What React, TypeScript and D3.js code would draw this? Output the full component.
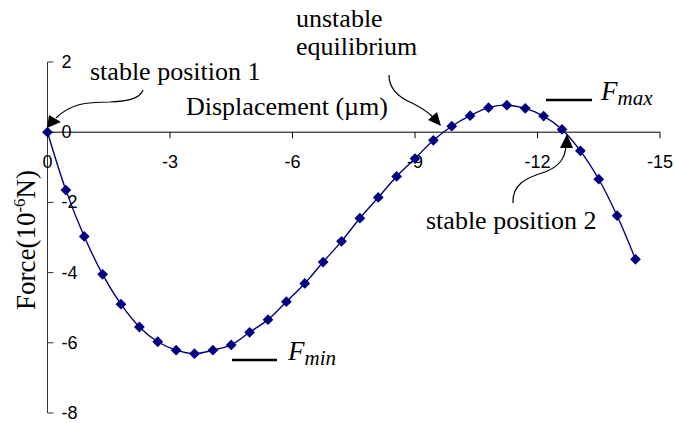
import { useEffect, useRef } from 'react';
import * as d3 from 'd3';

// displacement in um (axis runs 0 -> -15)
const displacement = [
  0, -0.45, -0.9, -1.35, -1.8, -2.25, -2.7, -3.15, -3.6, -4.05, -4.5,
  -4.95, -5.4, -5.85, -6.3, -6.75, -7.2, -7.65, -8.1, -8.55, -9.0,
  -9.45, -9.9, -10.35, -10.8, -11.25, -11.7, -12.15, -12.6, -13.05,
  -13.5, -13.95, -14.4,
];
// force in 1e-6 N
const force = [
  0, -1.65, -2.97, -4.05, -4.9, -5.55, -5.97, -6.21, -6.31, -6.21, -6.06,
  -5.7, -5.34, -4.83, -4.31, -3.7, -3.11, -2.45, -1.86, -1.26, -0.75,
  -0.23, 0.17, 0.47, 0.7, 0.77, 0.68, 0.46, 0.08, -0.53,
  -1.34, -2.38, -3.62,
];
const xTicks = [0, -3, -6, -9, -12, -15];
const yTicks = [2, 0, -2, -4, -6, -8];

const W = 674;
const H = 423;

export default function App() {
  const ref = useRef<SVGSVGElement>(null);

  useEffect(() => {
    const svg = d3.select(ref.current);
    svg.selectAll('*').remove();

    const x = d3.scaleLinear().domain([0, -15]).range([47.5, 660]);
    const y = d3.scaleLinear().domain([2, -8]).range([62, 413]);
    const data = displacement.map((d, i) => ({ x: d, y: force[i] }));

    const sans = 'Liberation Sans, Arial, sans-serif';
    const serif = 'Liberation Serif, Times New Roman, serif';

    // y axis
    const ya = svg.append('g').attr('transform', `translate(${x(0)},0)`);
    ya.append('line').attr('y1', y(2)).attr('y2', y(-8)).attr('stroke', '#333').attr('stroke-width', 1);
    ya.selectAll('.yt').data(yTicks).join('line')
      .attr('x1', 0).attr('x2', 6).attr('y1', d => y(d)).attr('y2', d => y(d))
      .attr('stroke', '#333');
    ya.selectAll('.yl').data(yTicks).join('text')
      .attr('x', 14).attr('y', d => y(d) + 6)
      .attr('font-family', sans).attr('font-size', 18)
      .text(d => d);

    // x axis
    const xa = svg.append('g').attr('transform', `translate(0,${y(0)})`);
    xa.append('line').attr('x1', x(0)).attr('x2', x(-15)).attr('stroke', '#000');
    xa.selectAll('.xt').data(xTicks).join('line')
      .attr('x1', d => x(d)).attr('x2', d => x(d)).attr('y1', 0).attr('y2', 6)
      .attr('stroke', '#000');
    xa.selectAll('.xl').data(xTicks).join('text')
      .attr('x', d => x(d)).attr('y', 36)
      .attr('text-anchor', 'middle')
      .attr('font-family', sans).attr('font-size', 18)
      .text(d => d);

    // curve
    const line = d3.line<{ x: number; y: number }>()
      .x(d => x(d.x)).y(d => y(d.y))
      .curve(d3.curveCatmullRom);
    svg.append('path').datum(data)
      .attr('fill', 'none').attr('stroke', '#000080').attr('stroke-width', 1.4)
      .attr('d', line);

    const diamond = d3.symbol().type(d3.symbolSquare).size(58);
    svg.selectAll('.pt').data(data).join('path')
      .attr('d', diamond)
      .attr('transform', d => `translate(${x(d.x)},${y(d.y)}) rotate(45)`)
      .attr('fill', '#000080');

    // labels
    const txt = (s: string, tx: number, ty: number) =>
      svg.append('text').attr('x', tx).attr('y', ty)
        .attr('font-family', serif).attr('font-size', 26).text(s);
    txt('stable position 1', 90, 80);
    txt('Displacement (\u00b5m)', 186, 115);
    txt('unstable', 296, 27);
    txt('equilibrium', 296, 55);
    txt('stable position 2', 426, 229);

    const yt = svg.append('text')
      .attr('transform', 'translate(35,240) rotate(-90)')
      .attr('text-anchor', 'middle')
      .attr('font-family', serif).attr('font-size', 27);
    yt.append('tspan').text('Force(10');
    yt.append('tspan').attr('dy', -10).attr('font-size', 17).text('-6');
    yt.append('tspan').attr('dy', 10).text('N)');

    // Fmax / Fmin
    svg.append('line').attr('x1', 546).attr('x2', 592).attr('y1', 100).attr('y2', 100)
      .attr('stroke', '#000').attr('stroke-width', 2.5);
    const fmax = svg.append('text').attr('x', 601).attr('y', 100)
      .attr('font-family', serif).attr('font-style', 'italic').attr('font-size', 27);
    fmax.append('tspan').text('F');
    fmax.append('tspan').attr('dy', 5).attr('font-size', 21).text('max');

    svg.append('line').attr('x1', 232).attr('x2', 277).attr('y1', 360).attr('y2', 360)
      .attr('stroke', '#000').attr('stroke-width', 2.5);
    const fmin = svg.append('text').attr('x', 288).attr('y', 360)
      .attr('font-family', serif).attr('font-style', 'italic').attr('font-size', 27);
    fmin.append('tspan').text('F');
    fmin.append('tspan').attr('dy', 5).attr('font-size', 21).text('min');

    // arrows
    const arrow = (d: string, head: [number, number][]) => {
      svg.append('path').attr('d', d).attr('fill', 'none').attr('stroke', '#000').attr('stroke-width', 1.2);
      svg.append('path').attr('d', 'M' + head.map(p => p.join(',')).join('L') + 'Z').attr('fill', '#000');
    };
    arrow('M143,90 C140,98 130,101 110,102 C85,102 70,104 56,118',
      [[47, 128], [49, 115], [61, 122]]);
    arrow('M389,75 C389,90 400,98 412,103 C422,108 428,112 434,118',
      [[441, 126], [428, 120], [437, 112]]);
    arrow('M513,203 C512,185 525,178 545,172 C560,166 565,158 566,146',
      [[567, 134], [560, 148], [573, 148]]);
  }, []);

  return (
    <svg ref={ref} width={W} height={H}
      style={{ position: 'absolute', left: 0, top: 0, background: '#fff' }} />
  );
}
